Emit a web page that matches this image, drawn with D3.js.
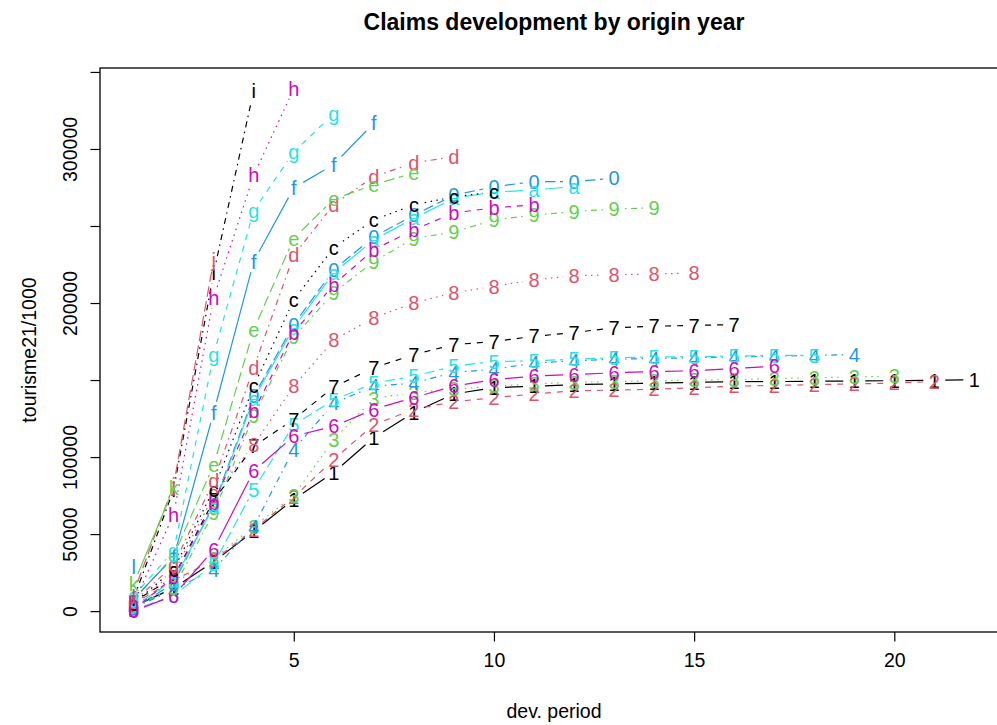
<!DOCTYPE html>
<html>
<head>
<meta charset="utf-8">
<script src="https://cdn.jsdelivr.net/npm/d3@7"></script>
<style>
  html, body { margin: 0; padding: 0; background: #fff; }
  svg { display: block; font-family: "Liberation Sans", Arial, Helvetica, sans-serif; }
</style>
</head>
<body>
<svg id="chart" width="997" height="725"></svg>
<script>
// Cumulative claims (tourisme21/1000) by development period, one array per origin year.
const o1  = [3000,15000,32000,52000,72500,90000,112700,129000,141000,145000,146000,147000,147500,148000,148500,149000,149000,149200,149400,149600,149800,150300];
const o2  = [5000,20000,33000,53000,74000,98500,121000,131000,136000,138500,141000,143000,143500,144000,145000,146000,146500,147000,147500,148000,149000];
const o3  = [4000,18000,34000,55000,75000,111500,138000,142000,144000,146000,147500,148500,149000,149500,150000,150300,151000,151500,152000,152500];
const o4  = [2000,14000,27000,55000,105000,135000,146000,148000,155000,157000,161000,162500,163500,164000,164500,165000,165500,166000,166500];
const o5  = [1000,10000,30500,79000,121000,137000,148000,152500,159000,162000,162500,163500,164500,165000,165200,165500,166000,166000];
const o6  = [0,10000,40000,91000,113600,120000,131000,138700,146000,150300,152500,153600,154700,155500,156000,157500,159000];
const o7  = [6000,22000,72000,107000,124500,145500,158000,166500,173000,175000,178400,180800,184000,184900,185500,186000];
const o8  = [4000,25000,75000,108000,146000,176000,190500,200000,206700,210800,215000,217700,218400,218800,219500];
const o9  = [3000,15000,64000,127000,178000,206700,227000,242000,246000,254000,257000,259400,261000,261800];
const o10 = [2000,18000,69000,139500,186000,221600,243000,257000,270000,275500,278800,278800,281000];
const o11 = [3000,20000,68000,138000,184000,219600,241000,255000,268000,272000,273400,275600];
const o12 = [1000,22000,70000,129800,180800,212000,234600,247500,258500,261800,263700];
const o13 = [5000,27000,79000,146000,202000,236000,254000,263700,269000,272000];
const o14 = [6000,30000,84400,158000,231000,264000,282000,291000,295000];
const o15 = [7000,36000,95000,182700,242000,267500,276700,284500];
const o16 = [8000,35000,129000,227000,274700,290000,316800];
const o17 = [10000,39000,166500,260000,298000,323000];
const o18 = [5000,62800,203500,283000,339000];
const o19 = [8000,79000,219600,338000];
const o20 = [12000,82000,228000];
const o21 = [17500,80000];
const o22 = [28500];

// Plotting symbols used for the origin years, in order.
const symbols = ["1","2","3","4","5","6","7","8","9","0","a","b","c","d","e","f","g","h","i","j","k","l"];
const origins = [o1,o2,o3,o4,o5,o6,o7,o8,o9,o10,o11,o12,o13,o14,o15,o16,o17,o18,o19,o20,o21,o22];

// Axis ticks and the labels printed next to them.
const xTicks = [5, 10, 15, 20];
const yTicks = [0, 50000, 100000, 150000, 200000, 250000, 300000, 350000];
const yTickLabels = ["0", "50000", "100000", "", "200000", "", "300000", ""];

const titleText = "Claims development by origin year";
const xTitle = "dev. period";
const yTitle = "tourisme21/1000";

// Colour and line-type cycles (base R palette style).
const palette = ["#000000", "#DF536B", "#61D04F", "#2297E6", "#28E2E5", "#CD0BBC"];
const dashes = [null, "6,6", "1.5,4.5", "1.5,4.5,6,4.5", "10.5,4.5"];

const svg = d3.select("#chart");
const plot = { left: 100, right: 1008, top: 68, bottom: 632 };
const fontSize = 19.5;
const symbolSize = 20;

const series = origins.map((vals, i) => ({
  sym: symbols[i],
  color: palette[i % palette.length],
  dash: dashes[i % dashes.length],
  pts: vals.map((v, j) => ({ t: j + 1, v }))
}));

// Scale domains padded by 4% like base graphics.
const allT = series.flatMap(s => s.pts.map(p => p.t));
const allV = series.flatMap(s => s.pts.map(p => p.v));
const [tMin, tMax] = d3.extent(allT);
const [vMin, vMax] = d3.extent(allV);
const tPad = (tMax - tMin) * 0.04, vPad = (vMax - vMin) * 0.04;

const x = d3.scaleLinear().domain([tMin - tPad, tMax + tPad]).range([plot.left, plot.right]);
const y = d3.scaleLinear().domain([vMin - vPad, vMax + vPad]).range([plot.bottom, plot.top]);

// Title
svg.append("text")
  .attr("x", (plot.left + plot.right) / 2)
  .attr("y", 30)
  .attr("text-anchor", "middle")
  .attr("font-weight", "bold")
  .attr("font-size", 23)
  .text(titleText);

// Series: lines broken around each symbol, then the symbols.
const gap = 11;
const gLines = svg.append("g");
series.forEach(s => {
  for (let k = 0; k < s.pts.length - 1; k++) {
    const x0 = x(s.pts[k].t), y0 = y(s.pts[k].v);
    const x1 = x(s.pts[k + 1].t), y1 = y(s.pts[k + 1].v);
    const len = Math.hypot(x1 - x0, y1 - y0);
    if (len <= 2 * gap) continue;
    const ux = (x1 - x0) / len, uy = (y1 - y0) / len;
    gLines.append("line")
      .attr("x1", x0 + ux * gap).attr("y1", y0 + uy * gap)
      .attr("x2", x1 - ux * gap).attr("y2", y1 - uy * gap)
      .attr("stroke", s.color)
      .attr("stroke-width", 1.2)
      .attr("stroke-dasharray", s.dash);
  }
  svg.append("g").selectAll("text")
    .data(s.pts)
    .join("text")
    .attr("x", d => x(d.t))
    .attr("y", d => y(d.v))
    .attr("dy", "0.36em")
    .attr("text-anchor", "middle")
    .attr("font-size", symbolSize)
    .attr("fill", s.color)
    .text(s.sym);
});

// Box
svg.append("rect")
  .attr("x", plot.left).attr("y", plot.top)
  .attr("width", plot.right - plot.left).attr("height", plot.bottom - plot.top)
  .attr("fill", "none").attr("stroke", "#000").attr("stroke-width", 1.3);

// X axis
const xAxis = svg.append("g")
  .attr("transform", `translate(0,${plot.bottom})`)
  .call(d3.axisBottom(x).tickValues(xTicks).tickSize(9.5).tickPadding(12).tickFormat(d3.format("d")));
xAxis.select(".domain").remove();
xAxis.selectAll("line").attr("stroke-width", 1.2);
xAxis.selectAll("text").attr("font-size", fontSize).attr("font-family", null);

// Y axis
const yAxis = svg.append("g")
  .attr("transform", `translate(${plot.left},0)`)
  .call(d3.axisLeft(y).tickValues(yTicks).tickSize(9.5).tickFormat((d, i) => yTickLabels[i]));
yAxis.select(".domain").remove();
yAxis.selectAll("line").attr("stroke-width", 1.2);
yAxis.selectAll("text")
  .attr("font-size", fontSize)
  .attr("font-family", null)
  .attr("text-anchor", "middle")
  .attr("dy", null)
  .attr("x", null)
  .attr("transform", "translate(-23,0) rotate(-90)");

// Axis titles
svg.append("text")
  .attr("x", (plot.left + plot.right) / 2)
  .attr("y", 718)
  .attr("text-anchor", "middle")
  .attr("font-size", fontSize)
  .text(xTitle);

svg.append("text")
  .attr("transform", `translate(36,${(plot.top + plot.bottom) / 2}) rotate(-90)`)
  .attr("text-anchor", "middle")
  .attr("font-size", fontSize)
  .text(yTitle);
</script>
</body>
</html>
